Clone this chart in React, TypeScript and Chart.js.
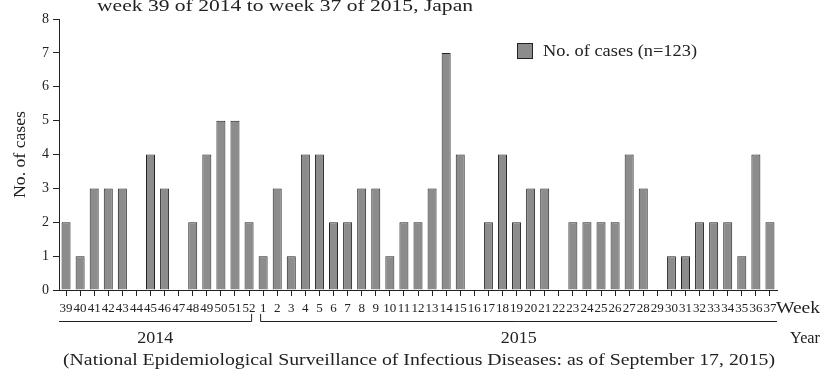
import React, { useEffect, useRef } from "react";
import { Chart, registerables } from "chart.js";

Chart.register(...registerables);

const weeks2014 = ["39", "40", "41", "42", "43", "44", "45", "46", "47", "48", "49", "50", "51", "52"];
const weeks2015 = ["1", "2", "3", "4", "5", "6", "7", "8", "9", "10", "11", "12", "13", "14", "15", "16", "17", "18", "19", "20", "21", "22", "23", "24", "25", "26", "27", "28", "29", "30", "31", "32", "33", "34", "35", "36", "37"];
const cases2014 = [2, 1, 3, 3, 3, 0, 4, 3, 0, 2, 4, 5, 5, 2];
const cases2015 = [1, 3, 1, 4, 4, 2, 2, 3, 3, 1, 2, 2, 3, 7, 4, 0, 2, 4, 2, 3, 3, 0, 2, 2, 2, 2, 4, 3, 0, 1, 1, 2, 2, 2, 1, 4, 2];
const yTickLabels = ["0", "1", "2", "3", "4", "5", "6", "7", "8"];
const years = ["2014", "2015"];
const seriesLabel = "No. of cases (n=123)";
const titleText = "week 39 of 2014 to week 37 of 2015, Japan";
const yTitle = "No. of cases";
const footerText = "(National Epidemiological Surveillance of Infectious Diseases: as of September 17, 2015)";

const FONT = '"Liberation Serif", "Times New Roman", serif';
const INK = "#222222";
const BAR_FILL = "#8c8c8c";

function fitText(ctx: CanvasRenderingContext2D, text: string, x: number, y: number, size: number, width: number, align: "left" | "center" | "right" = "left") {
  ctx.save();
  ctx.font = `${size}px ${FONT}`;
  const w = ctx.measureText(text).width;
  const sx = width / w;
  ctx.translate(x, y);
  ctx.scale(sx, 1);
  ctx.textAlign = "left";
  ctx.textBaseline = "alphabetic";
  ctx.fillStyle = INK;
  const ox = align === "left" ? 0 : align === "center" ? -w / 2 : -w;
  ctx.fillText(text, ox, 0);
  ctx.restore();
}

const decorPlugin = {
  id: "decor",
  afterDraw(chart: any) {
    const ctx: CanvasRenderingContext2D = chart.ctx;
    const area = chart.chartArea;
    const xs = chart.scales.x;
    fitText(ctx, titleText, 97, 11, 17, 376, "left");
    ctx.save();
    ctx.translate(25, (area.top + area.bottom) / 2);
    ctx.rotate(-Math.PI / 2);
    fitText(ctx, yTitle, 0, 0, 16, 87, "center");
    ctx.restore();
    ctx.save();
    ctx.fillStyle = BAR_FILL;
    ctx.strokeStyle = INK;
    ctx.lineWidth = 1;
    ctx.fillRect(517.5, 43.5, 15, 15);
    ctx.strokeRect(517.5, 43.5, 15, 15);
    ctx.restore();
    fitText(ctx, seriesLabel, 543, 56, 16, 154, "left");
    fitText(ctx, "Week", 776, 313, 16, 44, "left");
    const n14 = weeks2014.length;
    const mid = (xs.getPixelForValue(n14 - 1) + xs.getPixelForValue(n14)) / 2;
    const yb = 321.5;
    ctx.save();
    ctx.strokeStyle = INK;
    ctx.lineWidth = 1;
    ctx.beginPath();
    ctx.moveTo(area.left, yb);
    ctx.lineTo(mid - 4.5, yb);
    ctx.lineTo(mid - 4.5, 314);
    ctx.moveTo(mid + 4.5, 314);
    ctx.lineTo(mid + 4.5, yb);
    ctx.lineTo(area.right, yb);
    ctx.stroke();
    ctx.restore();
    fitText(ctx, years[0], (area.left + mid - 4.5) / 2, 343, 16, 36, "center");
    fitText(ctx, years[1], (mid + 4.5 + area.right) / 2, 343, 16, 36, "center");
    fitText(ctx, "Year", 790, 343, 16, 30, "left");
    fitText(ctx, footerText, 63, 365, 16, 712, "left");
  },
};

export default function App() {
  const ref = useRef<HTMLCanvasElement | null>(null);
  useEffect(() => {
    document.body.style.margin = "0";
    const canvas = ref.current;
    if (!canvas) return;
    const labels = [...weeks2014, ...weeks2015];
    const values = [...cases2014, ...cases2015];
    const chart = new Chart(canvas, {
      type: "bar",
      data: {
        labels,
        datasets: [
          {
            label: seriesLabel,
            data: values,
            backgroundColor: BAR_FILL,
            borderColor: INK,
            borderWidth: 1,
            barPercentage: 0.64,
            categoryPercentage: 1,
          },
        ],
      },
      plugins: [decorPlugin],
      options: {
        animation: false,
        responsive: false,
        devicePixelRatio: 1,
        layout: { padding: { top: 19, right: 45, left: 0, bottom: 0 } },
        plugins: {
          legend: { display: false },
          title: { display: false },
          tooltip: { enabled: false },
        },
        scales: {
          x: {
            type: "category",
            offset: true,
            grid: { display: true, drawOnChartArea: false, drawTicks: true, tickLength: 6, color: INK, offset: false },
            border: { display: true, color: INK, width: 1 },
            ticks: {
              autoSkip: false,
              maxRotation: 0,
              minRotation: 0,
              color: INK,
              padding: 5,
              font: { family: FONT, size: 13 },
            },
            afterFit: (scale: any) => {
              scale.height = 79;
            },
          },
          y: {
            min: 0,
            max: 8,
            grid: { display: true, drawOnChartArea: false, drawTicks: true, tickLength: 6, color: INK },
            border: { display: true, color: INK, width: 1 },
            ticks: {
              stepSize: 1,
              color: INK,
              padding: 4,
              font: { family: FONT, size: 14 },
              callback: (v: any) => yTickLabels[Number(v)] ?? "",
            },
            afterFit: (scale: any) => {
              scale.width = 59;
            },
          },
        },
      },
    });
    return () => chart.destroy();
  }, []);
  return <canvas ref={ref} width={822} height={369} style={{ display: "block", width: 822, height: 369 }} />;
}
